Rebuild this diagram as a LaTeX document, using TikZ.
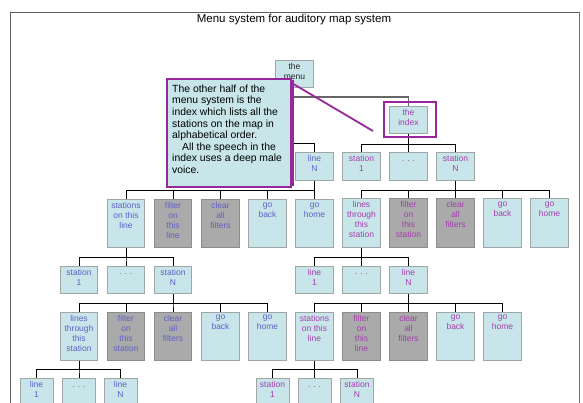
\documentclass[tikz,border=0pt]{standalone}
\usepackage{fontspec}
\setmainfont{Liberation Sans}
\definecolor{boxfill}{RGB}{200,230,234}
\definecolor{boxdraw}{RGB}{160,166,166}
\definecolor{grayfill}{RGB}{170,170,170}
\definecolor{graydraw}{RGB}{140,140,140}
\definecolor{bluetxt}{RGB}{95,95,200}
\definecolor{purptxt}{RGB}{165,60,175}
\definecolor{purpline}{RGB}{150,40,155}
\definecolor{framegray}{RGB}{95,95,95}
\tikzset{
 cbox/.style={draw=boxdraw, fill=boxfill, line width=1pt, minimum width=37.5pt, inner sep=0pt, anchor=north},
 gbox/.style={cbox, draw=graydraw, fill=grayfill},
 nbox/.style={cbox, minimum width=33pt},
 txt/.style={anchor=north, align=center, inner xsep=0pt, inner ysep=3.5pt, font=\fontsize{8.5}{10}\selectfont},
 tL/.style={txt, text=bluetxt},
 tR/.style={txt, text=purptxt},
 tK/.style={txt, text=black!85},
 conn/.style={draw=black, line width=0.8pt},
 menuconn/.style={draw=black!60, line width=1.4pt},
}
\newcommand{\tbox}[7]{\node[#5, minimum height=#4pt] (#1) at (#2,#3) {}; \node[#6] (#1t) at (#1.north) {#7};}
\newcommand{\ddd}{\strut\raisebox{1.5pt}{.\,\,.\,\,.}}
\begin{document}
\begin{tikzpicture}[x=1pt,y=-1pt]
\clip (0,0) rectangle (583,403);
\fill[white] (0,0) rectangle (583,403);
% frame
\draw[framegray, line width=0.8pt] (10,420) -- (10,12) -- (579,12);
\draw[black!55, line width=1.8pt] (579.5,12) -- (579.5,420);
% title
\node[font=\fontsize{11.5}{13}\selectfont, anchor=base] (title) at (294,23) {Menu system for auditory map system};
% level 0/1
\tbox{menu}{294.5}{60}{27}{cbox}{tK}{the\\menu}
\tbox{index}{408.5}{106}{27}{cbox}{tR}{the\\index}
\tbox{lineN}{314.5}{152}{28}{cbox}{tL}{line\\N}
\tbox{ist1}{361.5}{152}{28}{cbox}{tR}{station\\1}
\tbox{idots}{408.5}{152}{28}{cbox}{tR}{\ddd}
\tbox{istN}{455.5}{152}{28}{cbox}{tR}{station\\N}
% left level 2
\tbox{a1}{126}{199}{48}{cbox}{tL}{stations\\on this\\line}
\tbox{a2}{173}{199}{48}{gbox}{tL}{filter\\on\\this\\line}
\tbox{a3}{220.5}{199}{48}{gbox}{tL}{clear\\all\\filters}
\tbox{a4}{267.5}{199}{48}{cbox}{tL}{go\\back}
\tbox{a5}{314.5}{199}{48}{cbox}{tL}{go\\home}
% right level 2
\tbox{b1}{361.5}{198}{49}{cbox}{tR}{lines\\through\\this\\station}
\tbox{b2}{408.5}{198}{49}{gbox}{tR}{filter\\on\\this\\station}
\tbox{b3}{455.5}{198}{49}{gbox}{tR}{clear\\all\\filters}
\tbox{b4}{502.5}{198}{49}{cbox}{tR}{go\\back}
\tbox{b5}{549.5}{198}{49}{cbox}{tR}{go\\home}
% left level 3
\tbox{c1}{79}{265.5}{27.5}{cbox}{tL}{station\\1}
\tbox{c2}{126}{265.5}{27.5}{cbox}{tL}{\ddd}
\tbox{c3}{173}{265.5}{27.5}{cbox}{tL}{station\\N}
% right level 3
\tbox{d1}{314.5}{265.5}{27.5}{cbox}{tR}{line\\1}
\tbox{d2}{361.5}{265.5}{27.5}{cbox}{tR}{\ddd}
\tbox{d3}{408.5}{265.5}{27.5}{cbox}{tR}{line\\N}
% left level 4
\tbox{e1}{79}{311.5}{48}{cbox}{tL}{lines\\through\\this\\station}
\tbox{e2}{126}{311.5}{48}{gbox}{tL}{filter\\on\\this\\station}
\tbox{e3}{173}{311.5}{48}{gbox}{tL}{clear\\all\\filters}
\tbox{e4}{220.5}{311.5}{48}{cbox}{tL}{go\\back}
\tbox{e5}{267.5}{311.5}{48}{cbox}{tL}{go\\home}
% right level 4
\tbox{f1}{314.5}{311.5}{48}{cbox}{tR}{stations\\on this\\line}
\tbox{f2}{361.5}{311.5}{48}{gbox}{tR}{filter\\on\\this\\line}
\tbox{f3}{408.5}{311.5}{48}{gbox}{tR}{clear\\all\\filters}
\tbox{f4}{455.5}{311.5}{48}{cbox}{tR}{go\\back}
\tbox{f5}{502.5}{311.5}{48}{cbox}{tR}{go\\home}
% left level 5
\tbox{g1}{36.5}{378}{40}{nbox}{tL}{line\\1}
\tbox{g2}{79}{378}{40}{nbox}{tL}{\ddd}
\tbox{g3}{120.5}{378}{40}{nbox}{tL}{line\\N}
% right level 5
\tbox{h1}{272.5}{378}{40}{nbox}{tR}{station\\1}
\tbox{h2}{314.5}{378}{40}{nbox}{tR}{\ddd}
\tbox{h3}{357}{378}{40}{nbox}{tR}{station\\N}
% connectors
\coordinate (trunk) at (293,87);
\draw[conn] (trunk) -- ++(0,56) -| (lineN.north);
\draw[menuconn] (trunk) -- ++(0,10) -| (index.north);
\foreach \c in {ist1,idots,istN} \draw[conn] (index.south) -- ++(0,10) -| (\c.north);
\foreach \c in {a1,a2,a3,a4,a5} \draw[conn] (lineN.south) -- ++(0,9) -| (\c.north);
\foreach \c in {b1,b2,b3,b4,b5} \draw[conn] (istN.south) -- ++(0,9) -| (\c.north);
\foreach \c in {c1,c2,c3} \draw[conn] (a1.south) -- ++(0,9) -| (\c.north);
\foreach \c in {d1,d2,d3} \draw[conn] (b1.south) -- ++(0,9) -| (\c.north);
\foreach \c in {e1,e2,e3,e4,e5} \draw[conn] (c3.south) -- ++(0,9) -| (\c.north);
\foreach \c in {f1,f2,f3,f4,f5} \draw[conn] (d3.south) -- ++(0,9) -| (\c.north);
\foreach \c in {g1,g2,g3} \draw[conn] (e1.south) -- ++(0,9) -| (\c.north);
\foreach \c in {h1,h2,h3} \draw[conn] (f1.south) -- ++(0,9) -| (\c.north);
% highlight of the index
\node[draw=purpline, line width=2pt, minimum width=52pt, minimum height=35pt, inner sep=0pt] (indexhl) at (409.5,119.5) {};
% callout
\node[draw=purpline, line width=2.4pt, fill=boxfill, anchor=north west, minimum width=124pt, minimum height=108pt, inner sep=0pt] (callout) at (166,78) {};
\draw[purpline, line width=1.3pt] (293,80) -- (293,186);
\node[anchor=north west, align=left, inner sep=0pt, font=\fontsize{10.4}{11.6}\selectfont] (calltext) at (172,84.5) {The other half of the\\menu system is the\\index which lists all the\\stations on the map in\\alphabetical order.\\\hspace*{10pt}All the speech in the\\index uses a deep male\\voice.};
\coordinate (ptr) at (373,131);
\draw[purpline, line width=1.8pt] ([shift={(1,6)}]callout.north east) -- (ptr);
\end{tikzpicture}
\end{document}
